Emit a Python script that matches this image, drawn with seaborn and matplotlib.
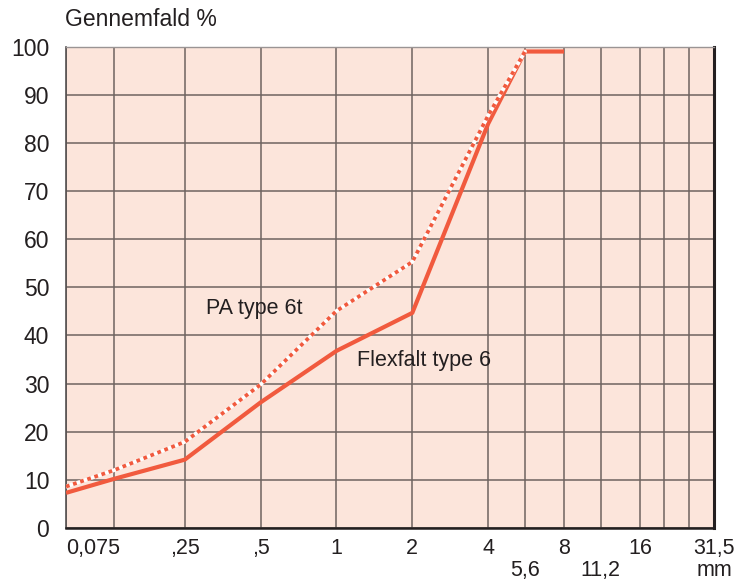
import numpy as np
import pandas as pd
import matplotlib
matplotlib.use("Agg")
import matplotlib.pyplot as plt
import seaborn as sns

# Sieve sizes (mm) and passing percentages
sieve_flex = [0.075, 0.125, 0.25, 0.5, 1, 2, 4, 5.6, 8]
pass_flex = [7.3, 10.2, 14.2, 26.1, 36.8, 44.7, 84.0, 99.0, 99.0]

sieve_pa = [0.075, 0.125, 0.25, 0.5, 1, 2, 4, 5.6]
pass_pa = [8.6, 12.0, 17.9, 29.8, 45.1, 55.3, 85.7, 99.0]

# Grid lines of the sieve axis and their labels
grid_sizes = [0.075, 0.125, 0.25, 0.5, 1, 2, 4, 5.6, 8, 11.2, 16, 20, 25, 31.5]
grid_labels = ["0,075", "", ",25", ",5", "1", "2", "4", "\n5,6", "8", "\n11,2", "16", "", "", "31,5\nmm"]
y_ticks = list(range(0, 101, 10))

line_color = "#F15A3E"
bg_color = "#FCE5DB"
grid_color = "#6E6360"
text_color = "#231F20"

# The sieve axis is log2 above 0.25 mm, compressed below it
anchor_log = np.log2([0.075, 0.125, 0.25, 64.0])
anchor_pos = np.array([-3.566, -2.934, -2.0, 6.0])


def forward(x):
    x = np.clip(np.asarray(x, dtype=float), 1e-6, None)
    return np.interp(np.log2(x), anchor_log, anchor_pos)


def inverse(p):
    return 2 ** np.interp(np.asarray(p, dtype=float), anchor_pos, anchor_log)


df_flex = pd.DataFrame({"mm": sieve_flex, "pct": pass_flex})
df_pa = pd.DataFrame({"mm": sieve_pa, "pct": pass_pa})

sns.set_style("white")
plt.rcParams["font.family"] = ["Liberation Sans", "DejaVu Sans"]

fig = plt.figure(figsize=(7.49, 5.88), dpi=100)
ax = fig.add_axes([66 / 749, 1 - 528 / 588, (714 - 66) / 749, (528 - 46.7) / 588])
ax.set_facecolor(bg_color)
ax.set_xscale("function", functions=(forward, inverse))

# Flexfalt type 6 (solid)
sns.lineplot(data=df_flex, x="mm", y="pct", ax=ax, color=line_color, lw=3.0,
             solid_capstyle="butt", zorder=3)
# PA type 6t (dotted red on white)
sns.lineplot(data=df_pa, x="mm", y="pct", ax=ax, color="white", lw=2.7, zorder=4)
sns.lineplot(data=df_pa, x="mm", y="pct", ax=ax, color=line_color, lw=2.7, zorder=5)
ax.lines[-1].set_dashes((1, 1))
ax.lines[-1].set_dash_capstyle("butt")

ax.set_xlim(0.075, 31.5)
ax.set_ylim(0, 100)
ax.set_xticks(grid_sizes)
ax.set_xticklabels(grid_labels, linespacing=1.05)
ax.xaxis.set_minor_locator(matplotlib.ticker.NullLocator())
ax.set_yticks(y_ticks)
ax.set_yticklabels([str(v) for v in y_ticks])
ax.tick_params(axis="x", length=0, pad=7, labelsize=15.5, labelcolor=text_color)
ax.tick_params(axis="y", length=0, pad=12, labelsize=16.5, labelcolor=text_color)
ax.grid(True, color=grid_color, lw=1.1)
ax.set_axisbelow(True)
ax.set_xlabel("")
ax.set_ylabel("")

ax.get_xticklabels()[0].set_horizontalalignment("left")

ax.spines["left"].set_color("#555050")
ax.spines["left"].set_linewidth(1.2)
ax.spines["bottom"].set_color("#231F20")
ax.spines["bottom"].set_linewidth(1.8)
ax.spines["right"].set_color("#231F20")
ax.spines["right"].set_linewidth(2.2)
ax.spines["top"].set_color("#9A9494")
ax.spines["top"].set_linewidth(1.0)

ax.text(0.473, 45.6, "PA type 6t", ha="center", va="center", fontsize=15.5,
        color=text_color, zorder=6)
ax.text(1.21, 34.9, "Flexfalt type 6", ha="left", va="center", fontsize=15.5,
        color=text_color, zorder=6)

fig.text(65 / 749, 1 - 20 / 588, "Gennemfald %", ha="left", va="center",
         fontsize=16.5, color=text_color)

fig.savefig("out.png", dpi=100, facecolor="white")
